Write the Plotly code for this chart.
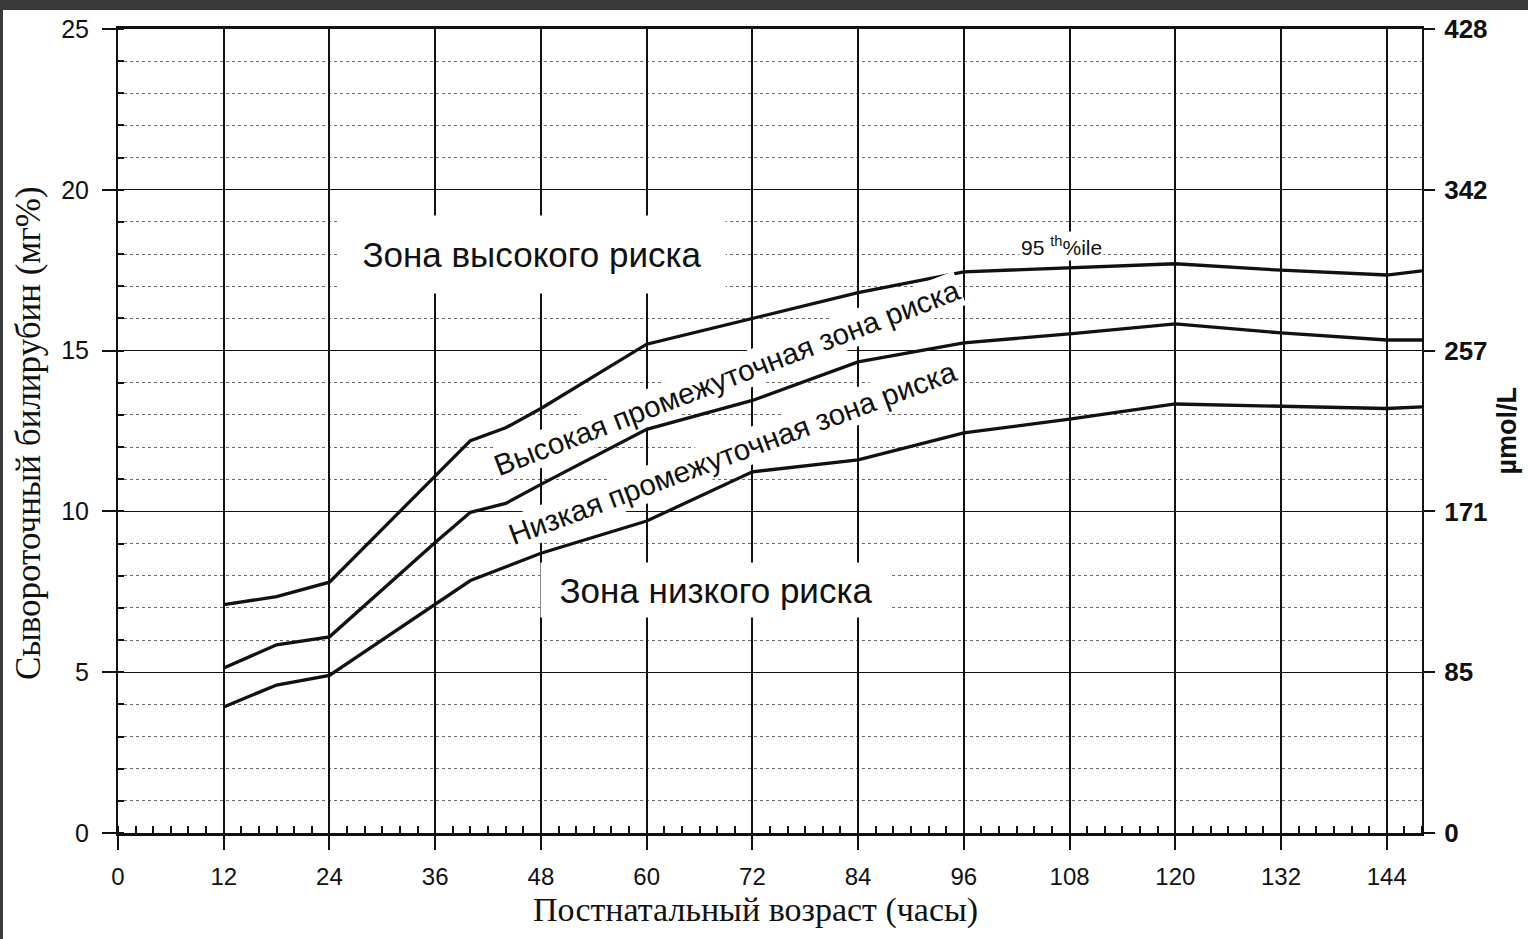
import plotly.graph_objects as go

# ---------------- data ----------------
hours_95 = [12, 18, 24, 30, 36, 40, 44, 48, 60, 72, 84, 96, 108, 120, 132, 144, 148]
p95 = [7.1, 7.35, 7.8, 9.45, 11.1, 12.2, 12.6, 13.2, 15.2, 16.0, 16.8, 17.45, 17.57, 17.7, 17.5, 17.35, 17.48]

hours_75 = [12, 18, 24, 36, 40, 44, 48, 60, 72, 84, 96, 108, 120, 132, 144, 148]
p75 = [5.13, 5.85, 6.1, 9.03, 9.97, 10.25, 10.84, 12.55, 13.45, 14.65, 15.24, 15.52, 15.83, 15.55, 15.33, 15.33]

hours_40 = [12, 18, 24, 36, 40, 48, 60, 72, 84, 96, 108, 120, 132, 144, 148]
p40 = [3.92, 4.6, 4.9, 7.1, 7.85, 8.7, 9.7, 11.23, 11.6, 12.44, 12.87, 13.34, 13.28, 13.2, 13.25]

x_ticks = list(range(0, 145, 12))
mg_ticks = [0, 5, 10, 15, 20, 25]
umol_labels = ["0", "85", "171", "257", "342", "428"]

SANS = "Liberation Sans, Arial, sans-serif"
SERIF = "Liberation Serif, Times New Roman, serif"
INK = "#111111"

fig = go.Figure()
for xs, ys in [(hours_95, p95), (hours_75, p75), (hours_40, p40)]:
    fig.add_trace(go.Scatter(x=xs, y=ys, mode="lines",
                             line=dict(color=INK, width=3.3),
                             showlegend=False, hoverinfo="skip"))
# carrier trace for the right (µmol/L) axis
fig.add_trace(go.Scatter(x=[0, 0], y=[mg_ticks[0], mg_ticks[-1]], yaxis="y2",
                         mode="markers", marker=dict(opacity=0),
                         showlegend=False, hoverinfo="skip"))

fig.update_layout(
    width=1528, height=939,
    margin=dict(l=118, r=106, t=29, b=106),
    paper_bgcolor="white", plot_bgcolor="white",
    xaxis=dict(
        range=[0, 148], tickvals=x_ticks,
        showgrid=True, gridcolor=INK, gridwidth=1.8,
        ticks="outside", ticklen=14, tickwidth=1.5, tickcolor=INK,
        showline=True, linecolor=INK, linewidth=2.5, mirror=True,
        zeroline=False,
        tickfont=dict(family=SANS, size=24, color=INK),
        ticklabelstandoff=6,
        minor=dict(dtick=2, tick0=0, ticks="inside", ticklen=7, tickwidth=1.5,
                   tickcolor=INK, showgrid=False),
    ),
    yaxis=dict(
        range=[0, 25], tickvals=mg_ticks,
        showgrid=True, gridcolor=INK, gridwidth=1.3,
        ticks="outside", ticklen=14, tickwidth=1.5, tickcolor=INK,
        showline=True, linecolor=INK, linewidth=2, mirror=True,
        zeroline=False,
        tickfont=dict(family=SANS, size=25, color=INK),
        ticklabelstandoff=8,
        minor=dict(dtick=1, tick0=0, showgrid=True, gridcolor="#6a6a6a",
                   griddash="dot", gridwidth=1,
                   ticks="inside", ticklen=6, tickwidth=1.5, tickcolor=INK),
    ),
    yaxis2=dict(
        overlaying="y", side="right", range=[0, 25],
        tickvals=mg_ticks, ticktext=umol_labels,
        showgrid=False, zeroline=False, showline=False,
        ticks="outside", ticklen=12, tickwidth=1.5, tickcolor=INK,
        tickfont=dict(family=SANS, size=26, color=INK, weight="bold"),
        ticklabelstandoff=4,
    ),
)

annotations = [
    # zone labels with white boxes
    dict(x=47.0, y=18.0, text="Зона высокого риска", showarrow=False,
         font=dict(family=SANS, size=35, color=INK), bgcolor="white",
         width=384, height=75),
    dict(x=67.9, y=7.56, text="Зона низкого риска", showarrow=False,
         font=dict(family=SANS, size=35, color=INK), bgcolor="white",
         width=348, height=52),
    dict(x=69.1, y=14.15, text="Высокая промежуточная зона риска", showarrow=False,
         textangle=-21, font=dict(family=SANS, size=29.5, color=INK),
         bgcolor="white", borderpad=1),
    dict(x=69.8, y=11.82, text="Низкая промежуточная зона риска", showarrow=False,
         textangle=-20.4, font=dict(family=SANS, size=29.5, color=INK),
         bgcolor="white", borderpad=1),
    dict(x=107.1, y=18.25, text="95 <sup>th</sup>%ile", showarrow=False,
         font=dict(family=SANS, size=21, color=INK), bgcolor="white", borderpad=1),
    # axis titles
    dict(xref="paper", yref="paper", x=-0.0685, y=0.497,
         xanchor="center", yanchor="middle",
         text="Сывороточный билирубин (мг%)", showarrow=False, textangle=-90,
         font=dict(family=SERIF, size=35, color=INK)),
    dict(xref="paper", yref="paper", x=0.4885, y=-0.0955,
         xanchor="center", yanchor="middle",
         text="Постнатальный возраст (часы)", showarrow=False,
         font=dict(family=SERIF, size=34, color=INK)),
    dict(xref="paper", yref="paper", x=1.0655, y=0.501,
         xanchor="center", yanchor="middle",
         text="µmol/L", showarrow=False, textangle=-90,
         font=dict(family=SANS, size=27, color=INK, weight="bold")),
]
fig.update_layout(annotations=annotations)

# dark scanner border at top and left edge
fig.add_shape(type="rect", xref="paper", yref="paper",
              x0=-0.1, x1=1.1, y0=1.0236, y1=1.04,
              fillcolor="#3a3a3a", line=dict(width=0), layer="above")
fig.add_shape(type="rect", xref="paper", yref="paper",
              x0=-0.1, x1=-0.0882, y0=-0.2, y1=1.04,
              fillcolor="#3a3a3a", line=dict(width=0), layer="above")

fig.write_html("out.html", config={"displayModeBar": False},
               post_script="document.body.style.margin='0';")
